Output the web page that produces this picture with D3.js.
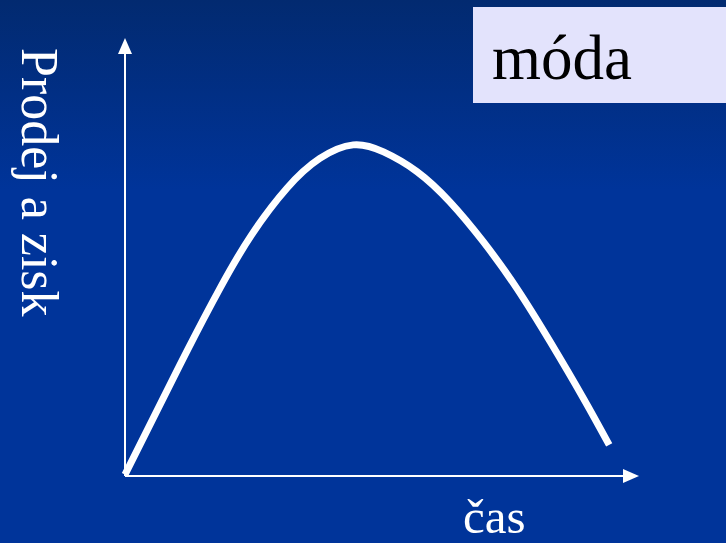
<!DOCTYPE html>
<html>
<head>
<meta charset="utf-8">
<script src="https://cdn.jsdelivr.net/npm/d3@7"></script>
<style>
  html, body { margin: 0; padding: 0; background: #00349a; }
  svg { display: block; }
</style>
</head>
<body>
<div id="chart"></div>
<script>
var svgWidth = 726;
var svgHeight = 543;

// life cycle curve, time (0-100) vs sales (0-100)
var cas = [0, 5.5, 12.0, 18.5, 24.6, 31.5, 37.9, 44.4, 50.3, 56.8, 63.2, 69.7, 76.2, 82.7, 89.2, 94.2];
var prodej = [0.3, 13.2, 28.4, 42.9, 55.0, 65.7, 72.5, 75.6, 74.0, 69.5, 62.6, 53.5, 42.9, 30.7, 17.7, 7.1];

var title = "móda";
var xLabel = "čas";
var yLabel = "Prodej a zisk";

var svg = d3.select("#chart")
    .append("svg")
    .attr("width", svgWidth)
    .attr("height", svgHeight);

var defs = svg.append("defs");
var grad = defs.append("linearGradient")
    .attr("id", "bg")
    .attr("x1", 0).attr("y1", 0)
    .attr("x2", 0).attr("y2", 1);
grad.append("stop").attr("offset", "0%").attr("stop-color", "#022a70");
grad.append("stop").attr("offset", "35%").attr("stop-color", "#00349a");
grad.append("stop").attr("offset", "100%").attr("stop-color", "#00349a");

svg.append("rect")
    .attr("width", svgWidth)
    .attr("height", svgHeight)
    .attr("fill", "url(#bg)");

var scX = d3.scaleLinear().domain([0, 100]).range([125, 639]);
var scY = d3.scaleLinear().domain([0, 100]).range([476, 38]);

// axes with arrow heads
svg.append("line")
    .attr("x1", scX(0)).attr("y1", scY(0))
    .attr("x2", scX(0)).attr("y2", scY(100) + 14)
    .attr("stroke", "#fff").attr("stroke-width", 2);
svg.append("path")
    .attr("d", `M${scX(0)},${scY(100)} L${scX(0) - 7},${scY(100) + 16} L${scX(0) + 7},${scY(100) + 16} Z`)
    .attr("fill", "#fff");

svg.append("line")
    .attr("x1", scX(0)).attr("y1", scY(0))
    .attr("x2", scX(100) - 14).attr("y2", scY(0))
    .attr("stroke", "#fff").attr("stroke-width", 2);
svg.append("path")
    .attr("d", `M${scX(100)},${scY(0)} L${scX(100) - 16},${scY(0) - 7} L${scX(100) - 16},${scY(0) + 7} Z`)
    .attr("fill", "#fff");

var line = d3.line()
    .x((d, i) => scX(cas[i]))
    .y(d => scY(d))
    .curve(d3.curveNatural);

svg.append("path")
    .datum(prodej)
    .attr("d", line)
    .attr("fill", "none")
    .attr("stroke", "#fff")
    .attr("stroke-width", 7);

// title box
svg.append("rect")
    .attr("x", 473).attr("y", 7)
    .attr("width", svgWidth - 473).attr("height", 96)
    .attr("fill", "#e3e3fc");

svg.append("text")
    .attr("x", 492).attr("y", 79)
    .attr("font-family", "'Liberation Serif', 'Times New Roman', serif")
    .attr("font-size", 63)
    .attr("fill", "#000")
    .text(title);

svg.append("text")
    .attr("x", 463).attr("y", 533)
    .attr("font-family", "'Liberation Serif', 'Times New Roman', serif")
    .attr("font-size", 49)
    .attr("fill", "#fff")
    .text(xLabel);

svg.append("text")
    .attr("transform", "translate(22,48) rotate(90)")
    .attr("font-family", "'Liberation Serif', 'Times New Roman', serif")
    .attr("font-size", 52)
    .attr("fill", "#fff")
    .text(yLabel);
</script>
</body>
</html>
